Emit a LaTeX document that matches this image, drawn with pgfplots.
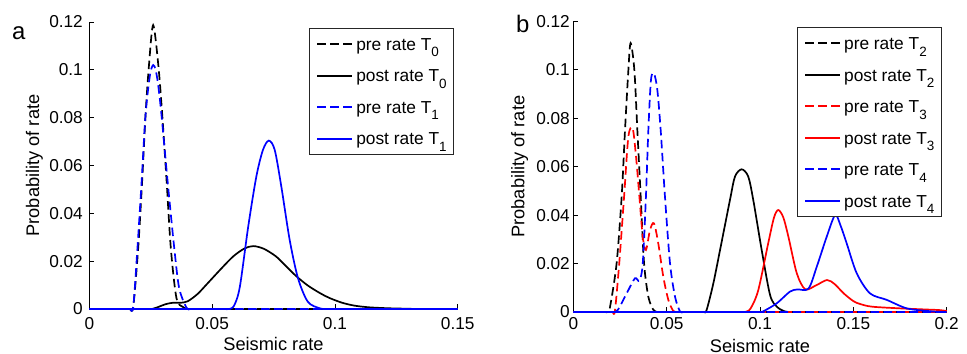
\documentclass[border=0pt]{standalone}
\usepackage{pgfplots}
\pgfplotsset{compat=1.18}
\usepackage{fontspec}
\setmainfont{Liberation Sans}

\newcommand{\sub}[1]{\raisebox{-6.5bp}{\fontsize{13.5}{13.5}\selectfont #1}}

\pgfplotsset{
  myaxis/.style={
    scale only axis, anchor=south west,
    axis lines=left, axis line style={-, line width=0.8bp, black},
    tick align=inside, major tick length=4.5bp, tick style={line width=0.7bp, black},
    ymin=0, ymax=0.12, enlargelimits=false, clip=false, scaled ticks=false,
    ytick={0,0.02,0.04,0.06,0.08,0.1,0.12},
    yticklabels={0,0.02,0.04,0.06,0.08,0.1,0.12},
    tick label style={font=\fontsize{17.3}{20}\selectfont},
    label style={font=\fontsize{18.3}{22}\selectfont},
    xlabel={Seismic rate}, ylabel={Probability of rate},
    xlabel style={at={(axis description cs:0.5,0)}, anchor=base, yshift=-41bp},
    legend cell align=left,
    legend style={font=\fontsize{17.4}{20}\selectfont, draw=black!85, line width=0.8bp,
      inner xsep=7bp, inner ysep=0bp, row sep=0bp, column sep=3bp,
      nodes={inner sep=0bp, text height=22bp, text depth=9.5bp}, anchor=north east},
    legend image code/.code={\draw[##1, line width=1.7bp] (0bp,0bp) -- (35bp,0bp);},
    every axis plot/.append style={smooth, tension=0.5, line width=1.7bp},
  },
  dsh/.style={dash pattern=on 8.5bp off 4.5bp},
}

\begin{document}
\begin{tikzpicture}
\useasboundingbox (0,0) rectangle (967bp,354bp);

% ---------------- panel a ----------------
\begin{axis}[myaxis, at={(89.3bp,45bp)}, width=368.4bp, height=287bp,
  xmin=0, xmax=0.15,
  xtick={0,0.05,0.1,0.15}, xticklabels={0,0.05,0.1,0.15},
  xticklabel style={anchor=base, yshift=-20.7bp},
  yticklabel style={anchor=east, inner xsep=0bp, xshift=-6.3bp},
  ylabel style={at={(axis description cs:-0.149,0.5)}, anchor=center},
  legend style={at={(rel axis cs:0.99,0.979)}},
]
\addplot[black, dsh] coordinates {
(0,0) (0.0130,0) (0.0150,0) (0.0165,0) (0.0179,0.0010) (0.0199,0.0254) (0.0215,0.0532)
(0.0229,0.0811) (0.0243,0.1020) (0.0260,0.1187) (0.0281,0.1020) (0.0297,0.0811)
(0.0315,0.0532) (0.0332,0.0254) (0.0355,0.0045) (0.0382,0.0008) (0.0400,0) (0.0420,0) (0.0440,0) (0.15,0)};
\addlegendentry{pre rate T\sub{0}}
\addplot[black] coordinates {
(0,0) (0.0220,0) (0.0240,0) (0.0255,0) (0.0280,0.0008) (0.0310,0.0020) (0.0340,0.0026) (0.0370,0.0026)
(0.0400,0.0032) (0.0440,0.0062) (0.0477,0.0102) (0.0531,0.0162) (0.0585,0.0219)
(0.0630,0.0252) (0.0667,0.0263) (0.0710,0.0252) (0.0760,0.0220) (0.0800,0.0180)
(0.0843,0.0137) (0.0890,0.0098) (0.0940,0.0066) (0.0978,0.0046) (0.1030,0.0026)
(0.1080,0.0014) (0.1140,0.0007) (0.1220,0.0003) (0.1300,0.0001) (0.1330,0) (0.1360,0) (0.15,0)};
\addlegendentry{post rate T\sub{0}}
\addplot[blue, dsh] coordinates {
(0,0) (0.0130,0) (0.0150,0) (0.0165,0) (0.0179,0.0010) (0.0196,0.0254) (0.0213,0.0532)
(0.0229,0.0811) (0.0247,0.0978) (0.0260,0.1020) (0.0270,0.1000) (0.0280,0.0940)
(0.0294,0.0811) (0.0319,0.0532) (0.0346,0.0254) (0.0366,0.0087) (0.0396,0.0005)
(0.0410,0) (0.0430,0) (0.0450,0) (0.15,0)};
\addlegendentry{pre rate T\sub{1}}
\addplot[blue] coordinates {
(0,0) (0.0530,0) (0.0550,0) (0.0570,0) (0.0590,0.0015) (0.0613,0.0093) (0.0647,0.0344)
(0.0680,0.0553) (0.0707,0.0665) (0.0731,0.0704) (0.0755,0.0665) (0.0782,0.0511)
(0.0816,0.0288) (0.0850,0.0128) (0.0890,0.0030) (0.0938,0.0003) (0.0960,0)
(0.0980,0) (0.1000,0) (0.15,0)};
\addlegendentry{post rate T\sub{1}}
\end{axis}

% ---------------- panel b ----------------
\begin{axis}[myaxis, at={(573.3bp,42bp)}, width=373.4bp, height=290.7bp,
  xmin=0, xmax=0.2,
  xtick={0,0.05,0.1,0.15,0.2}, xticklabels={0,0.05,0.1,0.15,0.2},
  xticklabel style={anchor=base, yshift=-17.7bp},
  xlabel style={yshift=1bp},
  yticklabel style={anchor=east, inner xsep=0bp, xshift=-3.3bp},
  ylabel style={at={(axis description cs:-0.144,0.5)}, anchor=center},
  legend style={at={(rel axis cs:0.987,0.980)}},
]
\addplot[black, dsh] coordinates {
(0,0) (0.0150,0) (0.0170,0) (0.0185,0) (0.0197,0.0022) (0.0232,0.0201) (0.0259,0.0476)
(0.0277,0.0751) (0.0295,0.0999) (0.0307,0.1110) (0.0327,0.0999) (0.0343,0.0751)
(0.0361,0.0476) (0.0379,0.0201) (0.0402,0.0063) (0.0428,0.0010) (0.0450,0)
(0.0470,0) (0.0490,0) (0.2,0)};
\addlegendentry{pre rate T\sub{2}}
\addplot[black] coordinates {
(0,0) (0.0660,0) (0.0680,0) (0.0700,0) (0.0714,0.0008) (0.0750,0.0118) (0.0786,0.0256)
(0.0839,0.0462) (0.0866,0.0559) (0.0902,0.0589) (0.0937,0.0559) (0.0964,0.0462)
(0.1009,0.0256) (0.1054,0.0070) (0.1090,0.0022) (0.1130,0.0003) (0.1150,0)
(0.1170,0) (0.1190,0) (0.2,0)};
\addlegendentry{post rate T\sub{2}}
\addplot[red, dsh] coordinates {
(0,0) (0.0180,0) (0.0195,0) (0.0210,0) (0.0223,0.0005) (0.0246,0.0201) (0.0272,0.0476)
(0.0295,0.0724) (0.0318,0.0758) (0.0336,0.0641) (0.0354,0.0476) (0.0372,0.0311)
(0.0389,0.0256) (0.0411,0.0339) (0.0432,0.0366) (0.0455,0.0284) (0.0482,0.0146)
(0.0509,0.0050) (0.0536,0.0004) (0.0560,0) (0.0580,0) (0.0600,0) (0.2,0)};
\addlegendentry{pre rate T\sub{3}}
\addplot[red] coordinates {
(0,0) (0.0880,0) (0.0900,0) (0.0920,0) (0.0950,0.0015) (0.0991,0.0091) (0.1044,0.0284)
(0.1075,0.0390) (0.1098,0.0421) (0.1125,0.0390) (0.1152,0.0311) (0.1197,0.0160)
(0.1242,0.0094) (0.1300,0.0110) (0.1359,0.0132) (0.1400,0.0115) (0.1448,0.0077)
(0.1500,0.0045) (0.1536,0.0033) (0.1600,0.0022) (0.1750,0.0015) (0.1900,0.0010)
(0.1960,0.0008) (0.2000,0.0004)};
\addlegendentry{post rate T\sub{3}}
\addplot[blue, dsh] coordinates {
(0,0) (0.0180,0) (0.0200,0) (0.0220,0) (0.0240,0.0010) (0.0286,0.0077) (0.0330,0.0139)
(0.0354,0.0129) (0.0372,0.0201) (0.0389,0.0476) (0.0402,0.0751) (0.0416,0.0958)
(0.0432,0.0985) (0.0450,0.0917) (0.0468,0.0751) (0.0491,0.0476) (0.0518,0.0201)
(0.0545,0.0063) (0.0571,0.0003) (0.0590,0) (0.0610,0) (0.0630,0) (0.2,0)};
\addlegendentry{pre rate T\sub{4}}
\addplot[blue] coordinates {
(0,0) (0.0960,0) (0.0980,0) (0.1000,0) (0.1018,0.0003) (0.1090,0.0036) (0.1160,0.0084)
(0.1200,0.0093) (0.1260,0.0097) (0.1304,0.0187) (0.1357,0.0310) (0.1402,0.0400)
(0.1430,0.0360) (0.1464,0.0284) (0.1518,0.0160) (0.1589,0.0077) (0.1679,0.0050)
(0.1786,0.0015) (0.1900,0.0004) (0.1950,0.0001) (0.2,0)};
\addlegendentry{post rate T\sub{4}}
\end{axis}

\node[anchor=base west, font=\fontsize{24}{24}\selectfont, inner sep=0pt] at (12bp,314bp) {a};
\node[anchor=base west, font=\fontsize{24}{24}\selectfont, inner sep=0pt] at (516bp,321bp) {b};
\end{tikzpicture}
\end{document}
